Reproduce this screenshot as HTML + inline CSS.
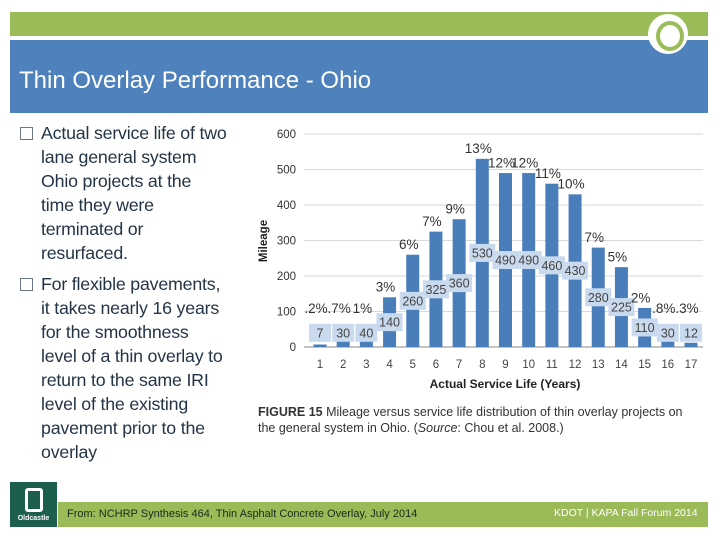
<!DOCTYPE html>
<html><head><meta charset="utf-8"><style>
body{margin:0;width:720px;height:540px;background:#fff;position:relative;overflow:hidden;font-family:"Liberation Sans",sans-serif}
.abs{position:absolute}
.bul{position:absolute;left:20px;color:#243447;font-size:17.8px;line-height:24px;white-space:nowrap}
.bul .box{position:absolute;left:0;top:6px;width:11px;height:11px;border:1px solid #6a7a8a}
.bul .t{margin-left:21px;letter-spacing:-0.2px}
</style></head><body>
<div class="abs" style="left:10px;top:12px;width:698px;height:24px;background:#9bbb59"></div>
<div class="abs" style="left:10px;top:40px;width:698px;height:73px;background:#4f81bd"></div>
<div class="abs" style="left:19px;top:65px;color:#fff;font-size:24px;line-height:32px;white-space:nowrap">Thin Overlay Performance - Ohio</div>
<div class="abs" style="left:648px;top:14px;width:40px;height:40px;border-radius:50%;background:#fff"></div>
<div class="abs" style="left:656px;top:21px;width:20px;height:22px;border-radius:50%;border:4px solid #9bbb59;background:#fff"></div>

<div class="bul" style="top:121px"><span class="box"></span><div class="t">Actual service life of two<br>lane general system<br>Ohio projects at the<br>time they were<br>terminated or<br>resurfaced.</div></div>
<div class="bul" style="top:272px"><span class="box"></span><div class="t">For flexible pavements,<br>it takes nearly 16 years<br>for the smoothness<br>level of a thin overlay to<br>return to the same IRI<br>level of the existing<br>pavement prior to the<br>overlay</div></div>

<svg class="abs" style="left:0;top:0" width="720" height="540" id="chart"></svg>

<div class="abs" style="left:258px;top:404px;font-size:12.5px;line-height:16px;color:#333;white-space:nowrap"><b>FIGURE 15</b> Mileage versus service life distribution of thin overlay projects on<br>the general system in Ohio. (<i>Source</i>: Chou et al. 2008.)</div>

<div class="abs" style="left:10px;top:482px;width:47px;height:45px;background:#1d5e4c;color:#fff;font-size:7px;text-align:center"><div style="margin:6px auto 0;width:12px;height:18px;border:3px solid #fff;border-radius:3px"></div><div style="font-weight:bold;margin-top:3px">Oldcastle</div></div>
<div class="abs" style="left:58px;top:502px;width:650px;height:25px;background:#9bbb59"></div>
<div class="abs" style="left:67px;top:508px;font-size:11px;color:#1a2a1a;white-space:nowrap">From: NCHRP Synthesis 464, Thin Asphalt Concrete Overlay, July 2014</div>
<div class="abs" style="left:554px;top:507px;font-size:10.5px;color:#fff;white-space:nowrap">KDOT | KAPA Fall Forum 2014</div>

<script>
const categories=[1,2,3,4,5,6,7,8,9,10,11,12,13,14,15,16,17];
const mileage=[7,30,40,140,260,325,360,530,490,490,460,430,280,225,110,30,12];
const valueLabels=["7","30","40","140","260","325","360","530","490","490","460","430","280","225","110","30","12"];
const pctLabels=[".2%",".7%","1%","3%","6%","7%","9%","13%","12%","12%","11%","10%","7%","5%","2%",".8%",".3%"];
const yTicks=[0,100,200,300,400,500,600];
const NS="http://www.w3.org/2000/svg";
const svg=document.getElementById('chart');
const y0=347,y1=134,ymax=600,left=304,right=703;
const ys=v=>y0-(v/ymax)*(y0-y1);
const xs=i=>320+i*((691-320)/(categories.length-1));
function mk(t,a,txt){const e=document.createElementNS(NS,t);for(const k in a)e.setAttribute(k,a[k]);if(txt!=null)e.textContent=txt;svg.appendChild(e);return e;}
yTicks.forEach(v=>{
  const g=mk('line',{x1:left,x2:right,y1:ys(v),y2:ys(v),stroke:v?'#d9d9d9':'#888','stroke-width':1});
  
  
  const t=mk('text',{x:296,y:ys(v)+4,'text-anchor':'end','font-size':11.5,fill:'#333'},v);
  
  
});
const yt=mk('text',{x:0,y:0,transform:'translate(267,241) rotate(-90)','text-anchor':'middle','font-size':11.5,'font-weight':'bold',fill:'#222'},'Mileage');


categories.forEach((c,i)=>{
  const x=xs(i),v=mileage[i];
  const b=mk('rect',{x:x-6.5,y:ys(v),width:13,height:y0-ys(v),fill:'#4a7ebb'});
  
  
  const xl=mk('text',{x:x,y:368,'text-anchor':'middle','font-size':11.5,fill:'#444'},c);
  
  
  const cy=ys(Math.max(v/2,40));
  const w=valueLabels[i].length>2?26:22;
  const bx=mk('rect',{x:x-w/2,y:cy-9,width:w,height:18,fill:'#c9daee'});
  
  
  const vt=mk('text',{x:x,y:cy+4.5,'text-anchor':'middle','font-size':12.5,fill:'#444'},valueLabels[i]);
  
  
  const pt=mk('text',{x:x-4,y:ys(Math.max(v+30,110))+5,'text-anchor':'middle','font-size':13.5,fill:'#333'},pctLabels[i]);
  
  
});
const xt=mk('text',{x:505,y:388,'text-anchor':'middle','font-size':12,'font-weight':'bold',fill:'#222'},'Actual Service Life (Years)');


</script>
</body></html>
